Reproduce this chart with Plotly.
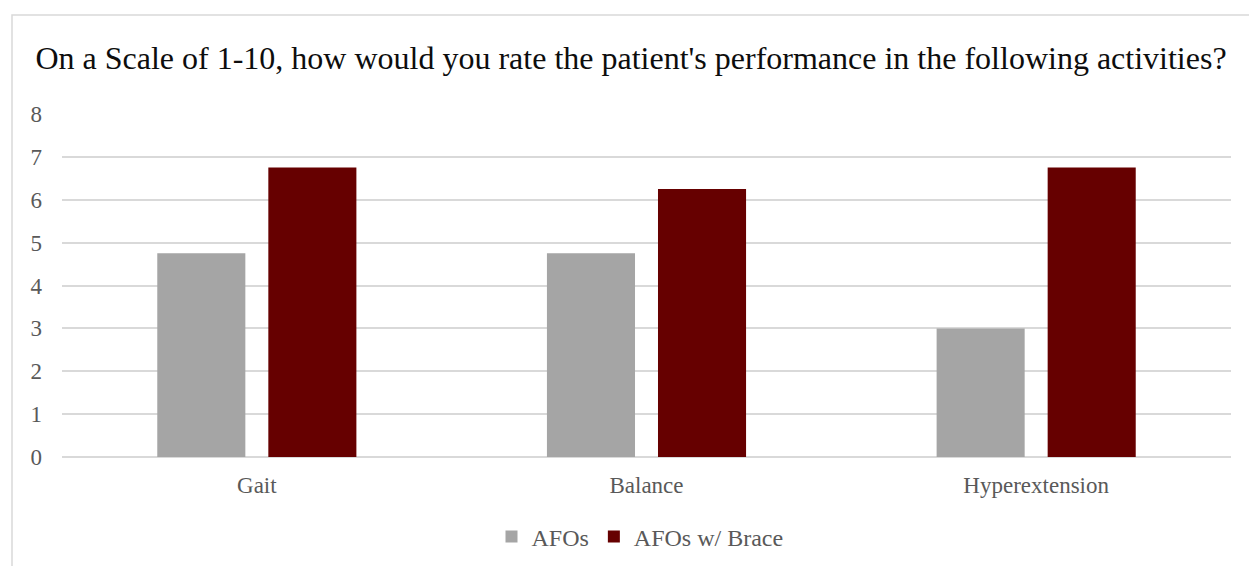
import plotly.graph_objects as go

categories = ["Gait", "Balance", "Hyperextension"]
afos = [4.75, 4.75, 3.0]
afos_brace = [6.75, 6.25, 6.75]
series_names = ["AFOs", "AFOs w/ Brace"]
y_ticks = [0, 1, 2, 3, 4, 5, 6, 7, 8]
title_text = "On a Scale of 1-10, how would you rate the patient's performance in the following activities?"

W, H = 1249, 566
L, R, T, B = 62, 18, 114, 109
pw, ph = W - L - R, H - T - B

font_family = "Liberation Serif, Times New Roman, serif"

fig = go.Figure()
fig.add_trace(go.Bar(x=categories, y=afos, name=series_names[0], marker=dict(color="#A5A5A5", line=dict(width=0))))
fig.add_trace(go.Bar(x=categories, y=afos_brace, name=series_names[1], marker=dict(color="#660000", line=dict(width=0))))

def px_x(p):
    return (p - L) / pw

def px_y(p):
    return (H - B - p) / ph

fig.update_layout(
    width=W, height=H,
    margin=dict(l=L, r=R, t=T, b=B, autoexpand=False),
    paper_bgcolor="white", plot_bgcolor="white",
    font=dict(family=font_family, color="#595959", size=23),
    title=dict(text=title_text, x=631 / W, xanchor="center", y=1 - 58 / H, yanchor="middle",
               font=dict(family=font_family, size=32, color="#0D0D0D")),
    barmode="group", bargap=0.43, bargroupgap=0.207,
    showlegend=True,
    legend=dict(orientation="h", x=px_x(640), xanchor="center", y=px_y(537), yanchor="middle",
                font=dict(size=24, color="#595959"), traceorder="normal", itemwidth=30),
    xaxis=dict(showgrid=False, showline=False, ticks="", ticklabelstandoff=12,
               tickfont=dict(size=23, color="#595959")),
    yaxis=dict(range=[0, 8], tickvals=y_ticks, showgrid=True, gridcolor="#D9D9D9", gridwidth=1.5,
               zeroline=True, zerolinecolor="#D9D9D9", zerolinewidth=1.5, showline=False, ticks="",
               ticklabelstandoff=19, tickfont=dict(size=23, color="#595959")),
    shapes=[dict(type="rect", xref="paper", yref="paper",
                 x0=px_x(12), x1=px_x(1260), y0=px_y(580), y1=px_y(15),
                 line=dict(color="#D9D9D9", width=1.5), fillcolor="rgba(0,0,0,0)", layer="below")],
)

fig.write_html("out.html")
